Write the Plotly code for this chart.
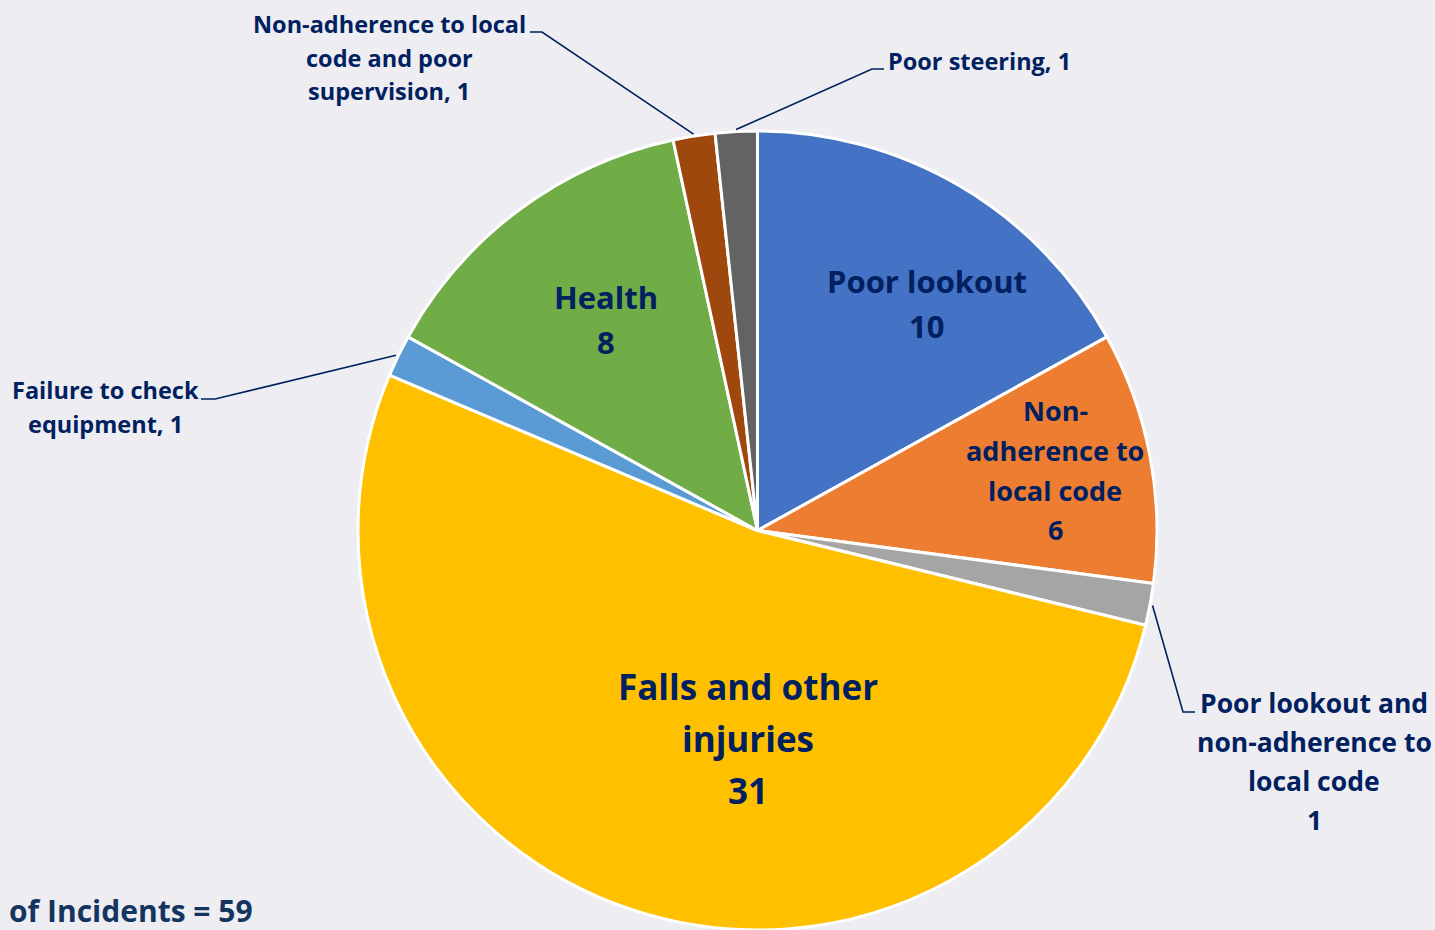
import math
import plotly.graph_objects as go

# Incident causes, clockwise from 12 o'clock
causes = [
    "Poor lookout",
    "Non-adherence to local code",
    "Poor lookout and non-adherence to local code",
    "Falls and other injuries",
    "Failure to check equipment",
    "Health",
    "Non-adherence to local code and poor supervision",
    "Poor steering",
]
counts = [10, 6, 1, 31, 1, 8, 1, 1]
colors = ["#4472C4", "#ED7D31", "#A5A5A5", "#FFC000",
          "#5B9BD5", "#70AD47", "#9E480E", "#636363"]

W, H = 1435, 930
BG = "#EDEDF2"
NAVY = "#002060"
FONT = "Open Sans"

# pie geometry in pixels
CX, CY, R = 757.5, 531.0, 400.0


def px(x):
    return x / W


def py(y):
    return 1 - y / H


fig = go.Figure()
fig.add_trace(go.Pie(
    labels=causes,
    values=counts,
    sort=False,
    direction="clockwise",
    rotation=0,
    marker=dict(colors=colors, line=dict(color="white", width=3)),
    textinfo="none",
    hoverinfo="label+value",
    showlegend=False,
    domain=dict(x=[px(CX - R), px(CX + R)], y=[0, py(CY - R)]),
))

total = sum(counts)


def slice_edge_point(idx, rr=R + 2):
    """Pixel point on the pie rim at the middle of slice idx."""
    start = sum(counts[:idx])
    mid = (start + counts[idx] / 2) / total * 2 * math.pi
    return CX + rr * math.sin(mid), CY - rr * math.cos(mid)


def add_lines(lines, xc, ys, size, color=NAVY, xanchor="center"):
    for text, y in zip(lines, ys):
        fig.add_annotation(
            x=px(xc), y=py(y), xref="paper", yref="paper",
            text=text, showarrow=False, xanchor=xanchor, yanchor="middle",
            font=dict(family=FONT, size=size, color=color, weight=700),
        )


def leader(idx, points):
    """Polyline from slice rim through the given pixel points."""
    x0, y0 = slice_edge_point(idx)
    pts = [(x0, y0)] + points
    path = "M " + " L ".join(f"{px(x):.5f},{py(y):.5f}" for x, y in pts)
    fig.add_shape(type="path", path=path, xref="paper", yref="paper",
                  line=dict(color=NAVY, width=1.6))


# inside labels
add_lines(["Poor lookout", str(counts[0])], 927, [281, 326], 31)
add_lines(["Non-", "adherence to", "local code", str(counts[1])],
          1055, [411, 450, 490, 529], 27)
add_lines(["Falls and other", "injuries", str(counts[3])],
          748, [686, 738, 790], 35)
add_lines(["Health", str(counts[5])], 606, [297, 342], 31)

# outside labels with leader lines
add_lines(["Non-adherence to local", "code and poor", f"supervision, {counts[6]}"],
          389, [24, 58, 91], 23.5)
leader(6, [(542, 32), (530, 32)])

add_lines([f"Poor steering, {counts[7]}"], 979, [61], 23.5)
leader(7, [(872, 69), (884, 69)])

add_lines(["Failure to check", f"equipment, {counts[4]}"], 105, [390, 424], 23.5)
leader(4, [(215, 399), (201, 399)])

add_lines(["Poor lookout and", "non-adherence to", "local code", str(counts[2])],
          1314, [703, 742, 781, 820], 26.5)
leader(2, [(1183, 712), (1195, 712)])

# total count caption
fig.add_annotation(
    x=px(7), y=py(910), xref="paper", yref="paper",
    text=f"of Incidents = {total}", showarrow=False,
    xanchor="left", yanchor="middle",
    font=dict(family=FONT, size=30, color="#13355F", weight=700),
)

fig.update_layout(
    width=W, height=H,
    margin=dict(l=0, r=0, t=0, b=0),
    paper_bgcolor=BG, plot_bgcolor=BG,
)

fig.write_html("out.html")
